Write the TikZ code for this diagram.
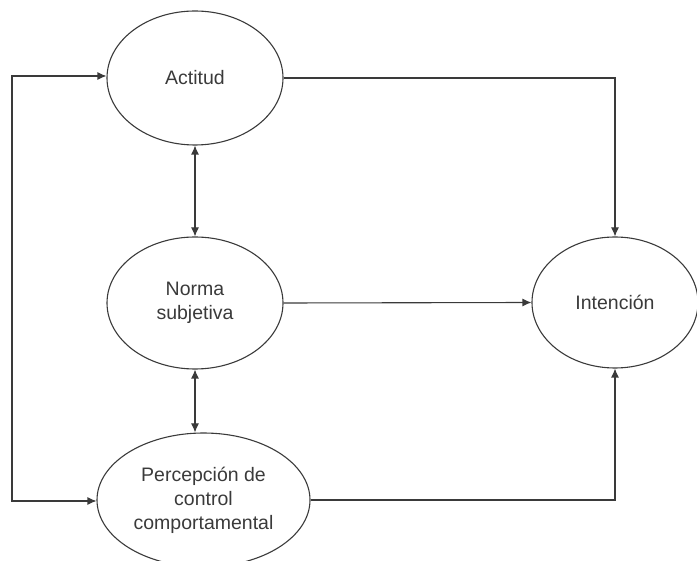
\documentclass[tikz,border=0pt]{standalone}
\usepackage{fontspec}
\setmainfont{Liberation Sans}
\usetikzlibrary{shapes.geometric,arrows.meta}
\definecolor{ink}{HTML}{3A3A3A}
\tikzset{
  oval/.style={ellipse, draw=ink, line width=1.1pt, inner sep=0pt, align=center,
    text=ink, font=\fontsize{19.5}{24}\selectfont},
  conn/.style={draw=ink, line width=1.1pt},
  tip/.style={-{Latex[length=9pt,width=8pt]}},
  tips/.style={{Latex[length=9pt,width=8pt]}-{Latex[length=9pt,width=8pt]}}
}
\begin{document}
\begin{tikzpicture}[x=1pt,y=-1pt]
\useasboundingbox (0,0) rectangle (697,561);
\node[oval, minimum width=176pt, minimum height=134pt] (act) at (195,78) {Actitud};
\node[oval, minimum width=176pt, minimum height=132pt] (norma) at (195,303) {Norma\\subjetiva};
\node[oval, minimum width=213pt, minimum height=134pt] (perc) at (203.5,500) {Percepción de\\control\\comportamental};
\node[oval, minimum width=166pt, minimum height=131pt] (int) at (615,302.5) {Intención};
\coordinate (L1) at (12,76);
\coordinate (L2) at (12,501);
% left feedback loop
\draw[conn, tips] (L1 -| act.west) -- (L1) -- (L2) -- (L2 -| perc.west);
% to Intención
\draw[conn, tip] (act.east) -| (int.north);
\draw[conn, tip] (norma.east) -- (int.west);
\draw[conn, tip] (perc.east) -| (int.south);
% mutual relations
\draw[conn, tips] (act.south) -- (norma.north);
\draw[conn, tips] (norma.south) -- (norma.south |- perc.north);
\end{tikzpicture}
\end{document}
